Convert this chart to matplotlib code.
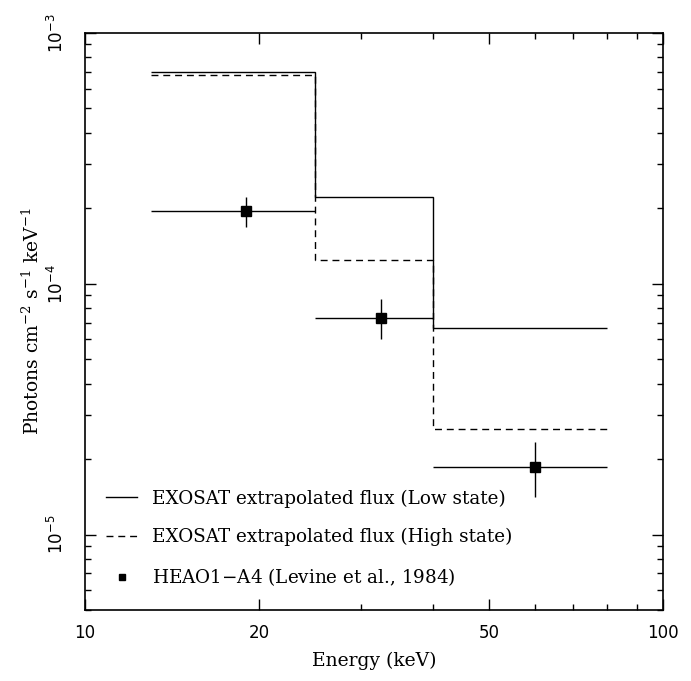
import numpy as np
import matplotlib.pyplot as plt
from matplotlib.lines import Line2D
from matplotlib.ticker import LogLocator, NullFormatter, FixedLocator, FixedFormatter

# Energy bin edges (keV)
bin_edges = [13, 25, 40, 80]

# EXOSAT extrapolated flux per bin
low_state = [7.0e-4, 2.22e-4, 6.66e-5]
high_state = [6.8e-4, 1.24e-4, 2.64e-5]

# HEAO1-A4 points
heao_e = [19.0, 32.5, 60.0]
heao_flux = [1.95e-4, 7.3e-5, 1.86e-5]
heao_flux_hi = [2.22e-4, 8.7e-5, 2.34e-5]
heao_flux_lo = [1.69e-4, 6.0e-5, 1.41e-5]

x_ticks = [10, 20, 50, 100]
x_ticklabels = ["10", "20", "50", "100"]

plt.rcParams['mathtext.default'] = 'regular'

fig = plt.figure(figsize=(6.91, 6.81), dpi=100)
ax = fig.add_axes([85 / 691, 71 / 681, 578 / 691, 577 / 681])

ax.stairs(low_state, bin_edges, baseline=None, color='black', lw=1.0)
ax.stairs(high_state, bin_edges, baseline=None, color='black', lw=1.0,
          linestyle=(0, (5, 3.5)))

edges = np.array(bin_edges, dtype=float)
e = np.array(heao_e)
f = np.array(heao_flux)
xerr = [e - edges[:-1], edges[1:] - e]
yerr = [f - np.array(heao_flux_lo), np.array(heao_flux_hi) - f]
ax.errorbar(e, f, xerr=xerr, yerr=yerr, fmt='s', color='black', ms=7,
            elinewidth=1.0, capsize=0)

ax.set_xscale('log')
ax.set_yscale('log')
ax.set_xlim(10, 100)
ax.set_ylim(5e-6, 1e-3)

ax.xaxis.set_major_locator(FixedLocator(x_ticks))
ax.xaxis.set_major_formatter(FixedFormatter(x_ticklabels))
ax.xaxis.set_minor_locator(LogLocator(base=10, subs=np.arange(2, 10)))
ax.xaxis.set_minor_formatter(NullFormatter())
ax.yaxis.set_minor_locator(LogLocator(base=10, subs=np.arange(2, 10)))
ax.yaxis.set_minor_formatter(NullFormatter())

ax.tick_params(which='both', direction='in', top=True, right=True, width=1.0)
ax.tick_params(which='major', length=8, labelsize=12)
ax.tick_params(axis='x', which='major', pad=10)
ax.tick_params(axis='y', which='major', pad=13)
ax.tick_params(which='minor', length=4)
for lbl in ax.get_yticklabels():
    lbl.set_rotation(90)
    lbl.set_va('center')
for sp in ax.spines.values():
    sp.set_linewidth(1.2)

ax.set_xlabel('Energy (keV)', family='DejaVu Serif', fontsize=13.5, labelpad=7)
ax.set_ylabel('Photons cm$^{-2}$ s$^{-1}$ keV$^{-1}$', family='DejaVu Serif',
              fontsize=13.5, labelpad=3)

handles = [
    Line2D([], [], color='black', lw=1.0),
    Line2D([], [], color='black', lw=1.0, linestyle=(0, (5, 3.5))),
    Line2D([], [], color='black', marker='s', ms=4, linestyle='none'),
]
labels = [
    'EXOSAT extrapolated flux (Low state)',
    'EXOSAT extrapolated flux (High state)',
    'HEAO1$-$A4 (Levine et al., 1984)',
]
ax.legend(handles, labels, loc='lower left', bbox_to_anchor=(0.021, 0.022),
          frameon=False, prop={'family': 'DejaVu Serif', 'size': 13.2},
          handlelength=1.7, handletextpad=0.8, labelspacing=1.1, borderpad=0)

plt.savefig('out.png', dpi=100)
plt.close()
